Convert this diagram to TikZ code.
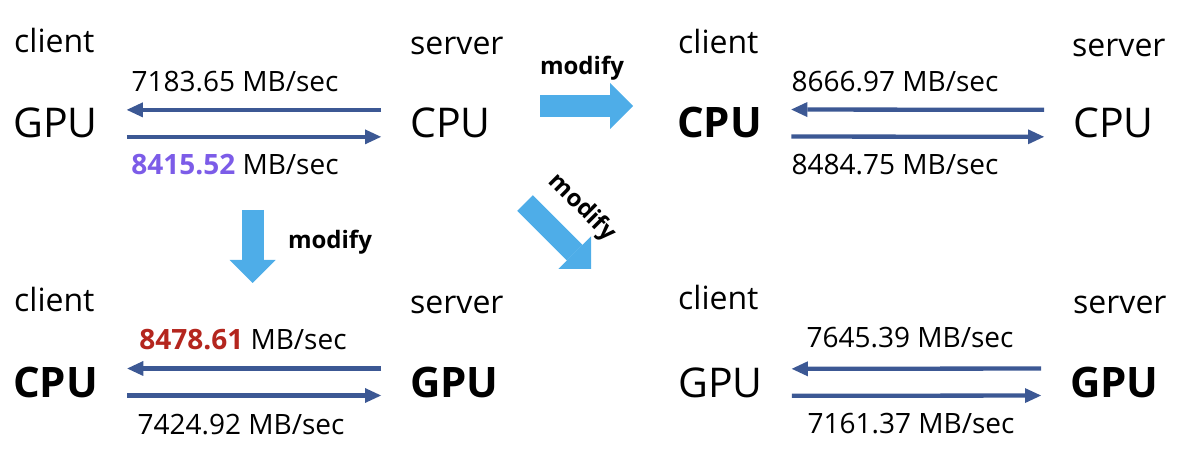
\documentclass[tikz,border=0pt]{standalone}
\usepackage{fontspec}
\setmainfont{Open Sans}
\usetikzlibrary{arrows.meta}
\definecolor{linkblue}{RGB}{60,88,148}
\definecolor{modblue}{RGB}{78,173,232}
\definecolor{fastpurple}{RGB}{124,92,232}
\definecolor{fastred}{RGB}{180,38,30}

\tikzset{
  role/.style={inner sep=0pt, anchor=base west, font=\fontsize{32}{36}\selectfont},
  dev/.style={inner sep=0pt, anchor=base west, font=\fontsize{41}{46}\selectfont},
  devbold/.style={dev, font=\fontsize{42}{46}\selectfont\bfseries},
  rate/.style={inner sep=0pt, anchor=base, font=\fontsize{28}{32}\selectfont},
  link/.style={draw=linkblue, line width=4.3pt, -{Triangle[length=16pt,width=15pt,line width=0pt]}, shorten <=29pt, shorten >=29pt},
  modarrow/.style={draw=modblue, line width=22pt, -{Triangle[length=23pt,width=46pt,line width=0pt]}},
  modlabel/.style={inner sep=0pt, font=\fontsize{24}{28}\selectfont\bfseries},
}

\begin{document}
\begin{tikzpicture}[x=1pt, y=-1pt]
\useasboundingbox (0,0) rectangle (1186,470);
% GPU client, CPU server
\node[role] (G1cl) at (14,53) {client};
\node[role] (G1sv) at (410,55) {server};
\node[dev] (G1L) at (13,138) {GPU};
\node[dev] (G1R) at (410,138) {CPU};
\node[rate] (G1up) at (235,92) {7183.65 MB/sec};
\node[rate] (G1dn) at (235,175) {\textbf{\textcolor{fastpurple}{8415.52}} MB/sec};
\draw[link] ([yshift=13.5pt]G1R.west) -- ([yshift=13.5pt]G1L.east);
\draw[link] ([yshift=-13.5pt]G1L.east) -- ([yshift=-13.5pt]G1R.west);
% CPU client, CPU server
\node[role] (G2cl) at (678,54) {client};
\node[role] (G2sv) at (1072,57) {server};
\node[devbold] (G2L) at (677,138) {CPU};
\node[dev] (G2R) at (1073,138) {CPU};
\node[rate] (G2up) at (895,92) {8666.97 MB/sec};
\node[rate] (G2dn) at (895,175) {8484.75 MB/sec};
\draw[link] ([yshift=13.5pt]G2R.west) -- ([yshift=13.5pt]G2L.east);
\draw[link] ([yshift=-13.5pt]G2L.east) -- ([yshift=-13.5pt]G2R.west);
% CPU client, GPU server
\node[role] (G3cl) at (14,312) {client};
\node[role] (G3sv) at (410,313) {server};
\node[devbold] (G3L) at (13,397) {CPU};
\node[devbold] (G3R) at (410,397) {GPU};
\node[rate] (G3up) at (243,349) {\textbf{\textcolor{fastred}{8478.61}} MB/sec};
\node[rate] (G3dn) at (241,434) {7424.92 MB/sec};
\draw[link] ([yshift=13.5pt]G3R.west) -- ([yshift=13.5pt]G3L.east);
\draw[link] ([yshift=-13.5pt]G3L.east) -- ([yshift=-13.5pt]G3R.west);
% GPU client, GPU server
\node[role] (G4cl) at (678,309) {client};
\node[role] (G4sv) at (1073,313) {server};
\node[dev] (G4L) at (678,397) {GPU};
\node[devbold] (G4R) at (1070,397) {GPU};
\node[rate] (G4up) at (910,348) {7645.39 MB/sec};
\node[rate] (G4dn) at (911,433) {7161.37 MB/sec};
\draw[link] ([yshift=13.5pt]G4R.west) -- ([yshift=13.5pt]G4L.east);
\draw[link] ([yshift=-13.5pt]G4L.east) -- ([yshift=-13.5pt]G4R.west);
% modify arrows
\coordinate (M1a) at (540,106);
\coordinate (M1b) at (633,106);
\draw[modarrow] (M1a) -- (M1b);
\node[modlabel] (M1t) at (582,68) {modify};
\coordinate (M2a) at (252.5,210);
\coordinate (M2b) at (252.5,283);
\draw[modarrow] (M2a) -- (M2b);
\node[modlabel] (M2t) at (330,242) {modify};
\coordinate (M3a) at (525,203);
\coordinate (M3b) at (591,269);
\draw[modarrow] (M3a) -- (M3b);
\node[modlabel, rotate=-45] (M3t) at (582,208) {modify};
\end{tikzpicture}
\end{document}
